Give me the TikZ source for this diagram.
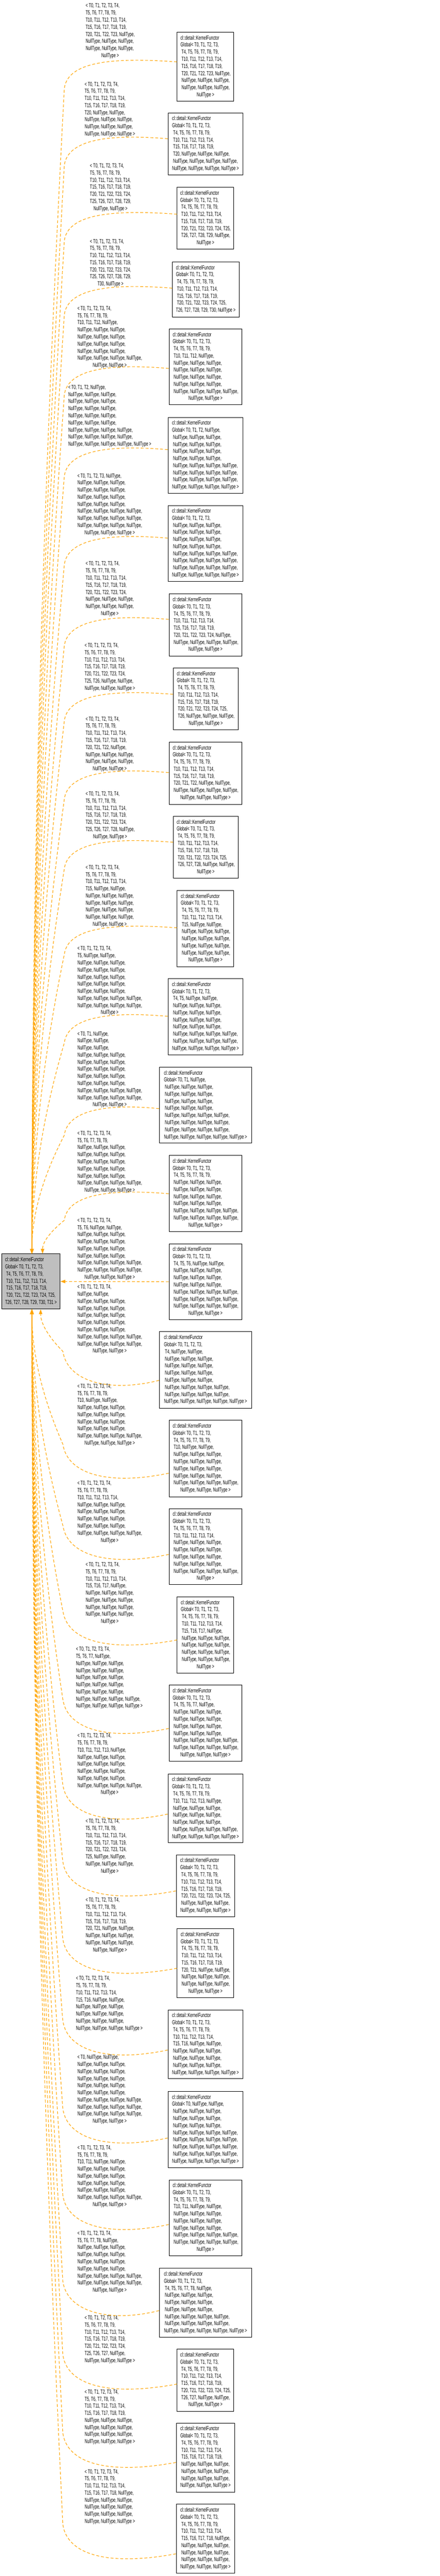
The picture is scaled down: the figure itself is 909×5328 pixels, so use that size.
\documentclass[tikz,border=0pt]{standalone}
\usepackage{fontspec}
\setmainfont{Liberation Sans}[FakeStretch=0.635]
\usetikzlibrary{arrows.meta}
\definecolor{kforange}{RGB}{255,165,0}
\definecolor{kfgray}{RGB}{191,191,191}
\newcommand\NT{NullType}
\newcommand\kfNiii{\NT, \NT, \NT,}
\newcommand\kfNiv{\NT, \NT, \NT, \NT,}
\newcommand\kfNfourend{\NT, \NT, \NT, \NT{} >}
\newcommand\kfNfiveend{\NT, \NT, \NT, \NT, \NT{} >}
\newcommand\kfAiii{\\\ \kfNiii}
\newcommand\kfAiv{\\\ \kfNiv}
\newcommand\kfBiii{\\\kfNiii}
\newcommand\kfBiv{\\\kfNiv}
\newcommand\kfhd{cl::detail::KernelFunctor}
\newcommand\kfGa{Global< T0, T1, T2, T3,}
\newcommand\kfGb{\ T4, T5, T6, T7, T8, T9,}
\newcommand\kfGc{\ T10, T11, T12, T13, T14,}
\newcommand\kfGd{\ T15, T16, T17, T18, T19,}
\newcommand\kfGe{\ T20, T21, T22, T23, T24, T25,}
\newcommand\kfTa{T0, T1, T2, T3, T4,}
\newcommand\kfTb{T5, T6, T7, T8, T9,}
\newcommand\kfTc{T10, T11, T12, T13, T14,}
\newcommand\kfTd{T15, T16, T17, T18, T19,}
\newcommand\kfTe{T20, T21, T22, T23, T24,}
\newcommand\kfTf{T25, T26, T27, T28, T29,}
\newcommand\kfbox[2]{\begin{tabular}{@{}l@{}}#1\\\multicolumn{1}{@{}c@{}}{#2}\end{tabular}}
% child node: name, x, y, w, h, lines, last line
\newcommand\kfchild[7]{\node[kfnode, minimum width=#4pt, minimum height=#5pt] (#1) at (#2,#3) {\kfbox{#6}{#7}};}
\newcommand\kflabel[5]{\node[kflbl] (#1) at (#2,#3) {\kfbox{#4}{#5}};}
% edges
\newcommand\kftop[3]{\draw[kfedge] (#1.west |- 0,#2) .. controls (230,#2-10) and (140,#2) .. (133,#2+55)
  .. controls ({#3+0.43*(133-#3)},{#2+55+0.3*(2538-#2)}) and (#3,{#2+55+0.63*(2538-#2)}) .. (#3,0 |- p.north);}
\newcommand\kfbot[3]{\draw[kfedge] (#1.west |- 0,#2) .. controls (230,#2+25) and (140,#2+5) .. (130,#2-60)
  .. controls ({#3+0.43*(130-#3)},{#2-60-0.3*(#2-2767)}) and (#3,{#2-60-0.63*(#2-2767)}) .. (#3,0 |- p.south);}
\begin{document}
\begin{tikzpicture}[x=1pt,y=-1pt,
  kfnode/.style={draw=black, line width=1pt, fill=white, inner sep=0pt, anchor=north west, font=\fontsize{12}{14.67}\selectfont},
  kflbl/.style={inner sep=0pt, anchor=north west, font=\fontsize{12}{14.67}\selectfont},
  kfedge/.style={draw=kforange, line width=1.2pt, dash pattern=on 6pt off 4pt, -{Triangle[length=10pt,width=7pt]}}]
\fill[white] (0,0) rectangle (909,5328);
\useasboundingbox (0,0) rectangle (909,5328);

% parent
\node[kfnode, fill=kfgray, minimum width=121pt, minimum height=114pt] (p) at (3,2593)
  {\kfbox{\kfhd\\\kfGa\\\kfGb\\\kfGc\\\kfGd\\\kfGe}{T26, T27, T28, T29, T30, T31 >}};

% children
\kfchild{c1}{366}{66}{117}{143}{\kfhd\\\kfGa\\\kfGb\\\kfGc\\\kfGd\\\ T20, T21, T22, T23, \NT,\kfAiii\kfAiii}{\NT{} >}
\kfchild{c2}{347}{233}{155}{128}{\kfhd\\\kfGa\\\kfGb\\\kfGc\\\kfGd\\\ T20, \NT, \NT, \NT,\kfAiv}{\kfNfourend}
\kfchild{c3}{366}{387}{117}{128}{\kfhd\\\kfGa\\\kfGb\\\kfGc\\\kfGd\\\kfGe\\\ T26, T27, T28, T29, \NT,}{\NT{} >}
\kfchild{c4}{356}{541}{138}{114}{\kfhd\\\kfGa\\\kfGb\\\kfGc\\\kfGd\\\kfGe}{T26, T27, T28, T29, T30, \NT{} >}
\kfchild{c5}{349}{680}{151}{157}{\kfhd\\\kfGa\\\kfGb\\\ T10, T11, T12, \NT,\kfAiii\kfAiii\kfAiii\kfAiii\kfAiv}{\NT, \NT{} >}
\kfchild{c6}{347}{863}{155}{157}{\kfhd\\Global< T0, T1, T2, \NT,\kfAiii\kfAiii\kfAiii\kfAiii\kfAiv\kfAiv\kfAiv}{\kfNfourend}
\kfchild{c7}{347}{1045}{155}{157}{\kfhd\\\kfGa\kfAiii\kfAiii\kfAiii\kfAiii\kfAiv\kfAiv\kfAiv}{\kfNfourend}
\kfchild{c8}{349}{1228}{151}{128}{\kfhd\\\kfGa\\\kfGb\\\kfGc\\\kfGd\\\ T20, T21, T22, T23, T24, \NT,\kfAiv}{\NT, \NT{} >}
\kfchild{c9}{358}{1381}{134}{128}{\kfhd\\\kfGa\\\kfGb\\\kfGc\\\kfGd\\\kfGe\\\ T26, \NT, \NT, \NT,}{\NT, \NT{} >}
\kfchild{c10}{349}{1534}{151}{129}{\kfhd\\\kfGa\\\kfGb\\\kfGc\\\kfGd\\\ T20, T21, T22, \NT, \NT,\kfAiv}{\NT, \NT, \NT{} >}
\kfchild{c11}{358}{1688}{134}{128}{\kfhd\\\kfGa\\\kfGb\\\kfGc\\\kfGd\\\kfGe\\\ T26, T27, T28, \NT, \NT,}{\NT{} >}
\kfchild{c12}{366}{1841}{117}{158}{\kfhd\\\kfGa\\\kfGb\\\kfGc\\\ T15, \NT, \NT,\kfAiii\kfAiii\kfAiii\kfAiii}{\NT, \NT{} >}
\kfchild{c13}{347}{2024}{155}{157}{\kfhd\\\kfGa\\\ T4, T5, \NT, \NT,\kfAiii\kfAiii\kfAiii\kfAiii\kfAiv\kfAiv}{\kfNfourend}
\kfchild{c14}{329}{2207}{191}{157}{\kfhd\\Global< T0, T1, \NT,\kfAiii\kfAiii\kfAiii\kfAiii\kfAiv\kfAiv\kfAiv}{\kfNfiveend}
\kfchild{c15}{349}{2389}{151}{158}{\kfhd\\\kfGa\\\kfGb\kfAiii\kfAiii\kfAiii\kfAiii\kfAiv\kfAiv}{\NT, \NT{} >}
\kfchild{c16}{349}{2572}{151}{157}{\kfhd\\\kfGa\\\ T4, T5, T6, \NT, \NT,\kfAiii\kfAiii\kfAiii\kfAiv\kfAiv\kfAiv}{\NT, \NT{} >}
\kfchild{c17}{329}{2754}{191}{158}{\kfhd\\\kfGa\\\ T4, \NT, \NT,\kfAiii\kfAiii\kfAiii\kfAiii\kfAiv\kfAiv}{\kfNfiveend}
\kfchild{c18}{349}{2937}{151}{158}{\kfhd\\\kfGa\\\kfGb\\\ T10, \NT, \NT,\kfAiii\kfAiii\kfAiii\kfAiii\kfAiv}{\NT, \NT, \NT{} >}
\kfchild{c19}{349}{3120}{151}{157}{\kfhd\\\kfGa\\\kfGb\\\kfGc\kfAiii\kfAiii\kfAiii\kfAiii\kfAiv}{\NT{} >}
\kfchild{c20}{366}{3302}{117}{158}{\kfhd\\\kfGa\\\kfGb\\\kfGc\\\ T15, T16, T17, \NT,\kfAiii\kfAiii\kfAiii\kfAiii}{\NT{} >}
\kfchild{c21}{349}{3485}{151}{157}{\kfhd\\\kfGa\\\ T4, T5, T6, T7, \NT,\kfAiii\kfAiii\kfAiii\kfAiii\kfAiv\kfAiv}{\NT, \NT, \NT{} >}
\kfchild{c22}{347}{3669}{155}{142}{\kfhd\\\kfGa\\\kfGb\\\ T10, T11, T12, T13, \NT,\kfAiii\kfAiii\kfAiii\kfAiv}{\kfNfourend}
\kfchild{c23}{364}{3836}{121}{128}{\kfhd\\\kfGa\\\kfGb\\\kfGc\\\kfGd\\\kfGe\kfAiii}{\NT, \NT, \NT{} >}
\kfchild{c24}{366}{3989}{117}{142}{\kfhd\\\kfGa\\\kfGb\\\kfGc\\\kfGd\\\ T20, T21, \NT, \NT,\kfAiii\kfAiii}{\NT, \NT{} >}
\kfchild{c25}{347}{4157}{155}{142}{\kfhd\\\kfGa\\\kfGb\\\kfGc\\\ T15, T16, \NT, \NT,\kfAiii\kfAiii\kfAiii}{\kfNfourend}
\kfchild{c26}{347}{4325}{155}{158}{\kfhd\\Global< T0, \NT, \NT,\kfAiii\kfAiii\kfAiii\kfAiv\kfAiv\kfAiv\kfAiv}{\kfNfourend}
\kfchild{c27}{349}{4508}{151}{157}{\kfhd\\\kfGa\\\kfGb\\\ T10, T11, \NT, \NT,\kfAiii\kfAiii\kfAiii\kfAiv\kfAiv}{\NT{} >}
\kfchild{c28}{329}{4691}{191}{143}{\kfhd\\\kfGa\\\ T4, T5, T6, T7, T8, \NT,\kfAiii\kfAiii\kfAiii\kfAiv\kfAiv}{\kfNfiveend}
\kfchild{c29}{366}{4858}{117}{129}{\kfhd\\\kfGa\\\kfGb\\\kfGc\\\kfGd\\\kfGe\\\ T26, T27, \NT, \NT,}{\NT, \NT{} >}
\kfchild{c30}{364}{5011}{121}{143}{\kfhd\\\kfGa\\\kfGb\\\kfGc\\\kfGd\kfAiii\kfAiii\kfAiii}{\NT, \NT, \NT{} >}
\kfchild{c31}{364}{5179}{121}{143}{\kfhd\\\kfGa\\\kfGb\\\kfGc\\\ T15, T16, T17, T18, \NT,\kfAiii\kfAiii\kfAiii}{\NT, \NT, \NT{} >}

% edge labels
\kflabel{l1}{177}{5.5}{< \kfTa\\\kfTb\\\kfTc\\\kfTd\\T20, T21, T22, T23, \NT,\kfBiii\kfBiii}{\NT{} >}
\kflabel{l2}{175}{167.5}{< \kfTa\\\kfTb\\\kfTc\\\kfTd\\T20, \NT, \NT,\kfBiii\kfBiii}{\NT, \NT, \NT{} >}
\kflabel{l3}{186}{336.5}{< \kfTa\\\kfTb\\\kfTc\\\kfTd\\\kfTe\\\kfTf}{\NT, \NT{} >}
\kflabel{l4}{186}{492.5}{< \kfTa\\\kfTb\\\kfTc\\\kfTd\\\kfTe\\\kfTf}{T30, \NT{} >}
\kflabel{l5}{160}{631.5}{< \kfTa\\\kfTb\\T10, T11, T12, \NT,\kfBiii\kfBiii\kfBiii\kfBiii\kfBiv}{\NT, \NT{} >}
\kflabel{l6}{141}{794.5}{< T0, T1, T2, \NT,\kfBiii\kfBiii\kfBiii\kfBiii\kfBiii\kfBiv\kfBiv}{\kfNfiveend}
\kflabel{l7}{160}{977.5}{< T0, T1, T2, T3, \NT,\kfBiii\kfBiii\kfBiii\kfBiii\kfBiv\kfBiv\kfBiv}{\NT, \NT, \NT{} >}
\kflabel{l8}{177}{1159.5}{< \kfTa\\\kfTb\\\kfTc\\\kfTd\\\kfTe\kfBiii\kfBiii}{\NT{} >}
\kflabel{l9}{175}{1328.5}{< \kfTa\\\kfTb\\\kfTc\\\kfTd\\\kfTe\\T25, T26, \NT, \NT,}{\NT, \NT, \NT{} >}
\kflabel{l10}{177}{1480.5}{< \kfTa\\\kfTb\\\kfTc\\\kfTd\\T20, T21, T22, \NT,\kfBiii\kfBiii}{\NT, \NT{} >}
\kflabel{l11}{177}{1635.5}{< \kfTa\\\kfTb\\\kfTc\\\kfTd\\\kfTe\\T25, T26, T27, T28, \NT,}{\NT, \NT{} >}
\kflabel{l12}{177}{1787.5}{< \kfTa\\\kfTb\\\kfTc\\T15, \NT, \NT,\kfBiii\kfBiii\kfBiii\kfBiii}{\NT, \NT{} >}
\kflabel{l13}{160}{1955.5}{< \kfTa\\T5, \NT, \NT,\kfBiii\kfBiii\kfBiii\kfBiii\kfBiii\kfBiv\kfBiv}{\NT{} >}
\kflabel{l14}{160}{2131.5}{< T0, T1, \NT,\\\NT, \NT,\\\NT, \NT,\kfBiii\kfBiii\kfBiii\kfBiii\kfBiii\kfBiv\kfBiv}{\NT, \NT{} >}
\kflabel{l15}{160}{2337.5}{< \kfTa\\\kfTb\kfBiii\kfBiii\kfBiii\kfBiii\kfBiii\kfBiv}{\NT, \NT, \NT{} >}
\kflabel{l16}{160}{2517.5}{< \kfTa\\T5, T6, \NT, \NT,\kfBiii\kfBiii\kfBiii\kfBiii\kfBiv\kfBiv}{\NT, \NT, \NT{} >}
\kflabel{l17}{160}{2655.5}{< \kfTa\\\NT, \NT,\kfBiii\kfBiii\kfBiii\kfBiii\kfBiii\kfBiv\kfBiv}{\NT, \NT{} >}
\kflabel{l18}{160}{2860.5}{< \kfTa\\\kfTb\\T10, \NT, \NT,\kfBiii\kfBiii\kfBiii\kfBiii\kfBiv}{\NT, \NT, \NT{} >}
\kflabel{l19}{160}{3061.5}{< \kfTa\\\kfTb\\\kfTc\kfBiii\kfBiii\kfBiii\kfBiii\kfBiv}{\NT{} >}
\kflabel{l20}{177}{3229.5}{< \kfTa\\\kfTb\\\kfTc\\T15, T16, T17, \NT,\kfBiii\kfBiii\kfBiii\kfBiii}{\NT{} >}
\kflabel{l21}{157}{3404.5}{< \kfTa\\T5, T6, T7, \NT,\kfBiii\kfBiii\kfBiii\kfBiii\kfBiii\kfBiv}{\kfNfourend}
\kflabel{l22}{160}{3583.5}{< \kfTa\\\kfTb\\T10, T11, T12, T13, \NT,\kfBiii\kfBiii\kfBiii\kfBiii\kfBiv}{\NT{} >}
\kflabel{l23}{177}{3760.5}{< \kfTa\\\kfTb\\\kfTc\\\kfTd\\\kfTe\\T25, \NT, \NT,\kfBiii}{\NT{} >}
\kflabel{l24}{177}{3923.5}{< \kfTa\\\kfTb\\\kfTc\\\kfTd\\T20, T21, \NT, \NT,\kfBiii\kfBiii}{\NT, \NT{} >}
\kflabel{l25}{157}{4085.5}{< \kfTa\\\kfTb\\\kfTc\\T15, T16, \NT, \NT,\kfBiii\kfBiii\kfBiii}{\kfNfourend}
\kflabel{l26}{160}{4248.5}{< T0, \NT, \NT,\kfBiii\kfBiii\kfBiii\kfBiii\kfBiii\kfBiv\kfBiv\kfBiv}{\NT, \NT{} >}
\kflabel{l27}{160}{4435.5}{< \kfTa\\\kfTb\\T10, T11, \NT, \NT,\kfBiii\kfBiii\kfBiii\kfBiii\kfBiv}{\NT, \NT{} >}
\kflabel{l28}{160}{4612.5}{< \kfTa\\T5, T6, T7, T8, \NT,\kfBiii\kfBiii\kfBiii\kfBiii\kfBiv\kfBiv}{\NT, \NT{} >}
\kflabel{l29}{175}{4787.5}{< \kfTa\\\kfTb\\\kfTc\\\kfTd\\\kfTe\\T25, T26, T27, \NT,}{\NT, \NT, \NT{} >}
\kflabel{l30}{175}{4940.5}{< \kfTa\\\kfTb\\\kfTc\\\kfTd\kfBiii\kfBiii\kfBiii}{\NT, \NT, \NT{} >}
\kflabel{l31}{175}{5105.5}{< \kfTa\\\kfTb\\\kfTc\\T15, T16, T17, T18, \NT,\kfBiii\kfBiii\kfBiii}{\NT, \NT, \NT{} >}

% edges above the parent
\kftop{c1}{128}{66}
\kftop{c2}{287}{66}
\kftop{c3}{443}{66}
\kftop{c4}{596}{66}
\kftop{c5}{762}{66}
\kftop{c6}{930}{66}
\kftop{c7}{1113}{66}
\kftop{c8}{1281}{66}
\kftop{c9}{1436}{66}
\kftop{c10}{1598}{66}
\kftop{c11}{1742}{66}
\kftop{c12}{1919}{66}
\kftop{c13}{2102}{66}
\kftop{c14}{2293}{66}
\kftop{c15}{2469}{88}
% straight edge
\draw[kfedge] (c16.west) -- (p.east);
% edges below the parent
\kfbot{c17}{2855}{84}
\kfbot{c18}{3047}{66}
\kfbot{c19}{3215}{66}
\kfbot{c20}{3392}{66}
\kfbot{c21}{3575}{66}
\kfbot{c22}{3752}{66}
\kfbot{c23}{3911}{66}
\kfbot{c24}{4071}{66}
\kfbot{c25}{4240}{66}
\kfbot{c26}{4422}{66}
\kfbot{c27}{4601}{66}
\kfbot{c28}{4779}{66}
\kfbot{c29}{4931}{66}
\kfbot{c30}{5093}{66}
\kfbot{c31}{5282}{66}
\end{tikzpicture}
\end{document}
